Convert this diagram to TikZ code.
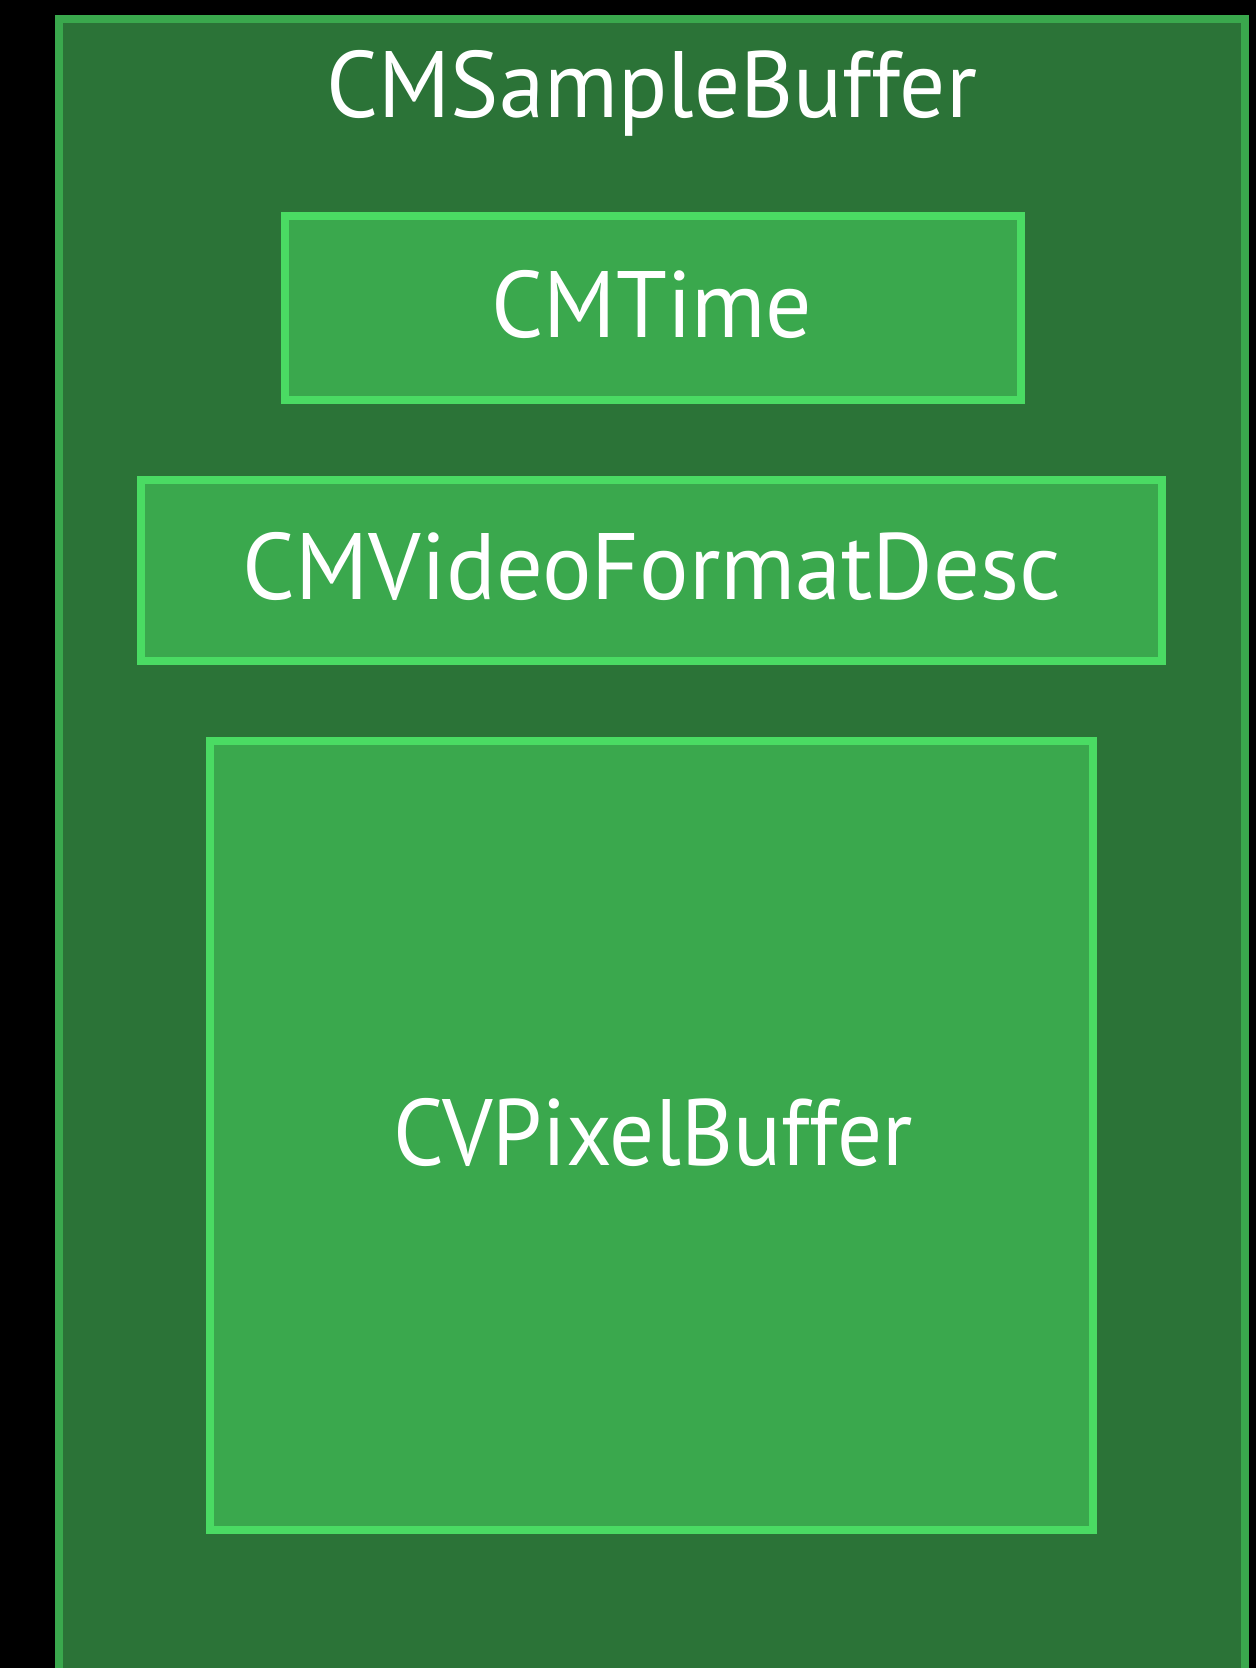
\documentclass[tikz,border=0pt]{standalone}
\usepackage{fontspec}
\setmainfont{PT Sans}
\usepackage{graphicx}
\definecolor{bgdark}{HTML}{2B7337}
\definecolor{midgreen}{HTML}{3AA84D}
\definecolor{brightgreen}{HTML}{4ADB63}
\newcommand\fitw[2]{\resizebox{#1}{\height}{#2}}
\tikzset{
  outerbox/.style={draw=midgreen, fill=bgdark, line width=8pt, inner sep=0pt, rectangle},
  innerbox/.style={draw=brightgreen, fill=midgreen, line width=8pt, inner sep=0pt, rectangle},
  label/.style={text=white, anchor=base, inner sep=0pt, font=\fontsize{94.3}{100}\selectfont}
}
\begin{document}
\begin{tikzpicture}[x=1pt, y=-1pt]
\clip (0,0) rectangle (1256,1668);
\fill[black] (0,0) rectangle (1256,1668);
\node[outerbox, minimum width=1186.5pt, minimum height=1671.5pt] (sample) at (651.75,854.25) {};
\node[innerbox, minimum width=736pt, minimum height=183.7pt] (time) at (653,307.85) {};
\node[innerbox, minimum width=1021pt, minimum height=181pt] (fmt) at (651.5,570.2) {};
\node[innerbox, minimum width=883pt, minimum height=789pt] (pix) at (651.5,1135.5) {};
\node[label] (sampletext) at (652,117) {\fitw{650pt}{CMSampleBuffer}};
\node[label] (timetext) at (652,337) {\fitw{321pt}{CMTime}};
\node[label] (fmttext) at (652,599) {\fitw{818pt}{CMVideoFormatDesc}};
\node[label] (pixtext) at (653,1165) {\fitw{519pt}{CVPixelBuffer}};
\end{tikzpicture}
\end{document}
